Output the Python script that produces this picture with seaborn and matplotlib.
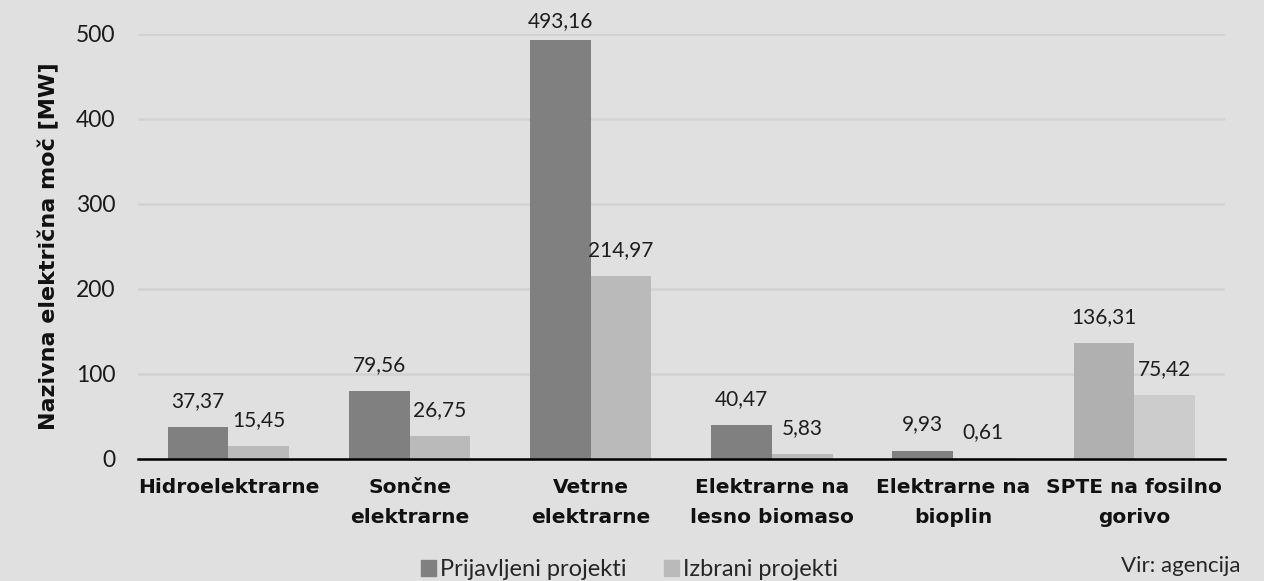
import pandas as pd
import numpy as np
import matplotlib.pyplot as plt
import seaborn as sns
from matplotlib.patches import Patch

# data
categories = ['Hidroelektrarne', 'Sončne\nelektrarne', 'Vetrne\nelektrarne',
              'Elektrarne na\nlesno biomaso', 'Elektrarne na\nbioplin', 'SPTE na fosilno\ngorivo']
prijavljeni = [37.37, 79.56, 493.16, 40.47, 9.93, 136.31]
izbrani = [15.45, 26.75, 214.97, 5.83, 0.61, 75.42]
series_names = ['Prijavljeni projekti', 'Izbrani projekti']

df = pd.DataFrame({
    'kat': categories * 2,
    'moc': prijavljeni + izbrani,
    'serija': [series_names[0]] * 6 + [series_names[1]] * 6,
})

bg = '#e0e0e0'
sns.set_style('white')
plt.rcParams['font.family'] = ['Lato', 'DejaVu Sans']
bold = 'DejaVu Sans'

fig = plt.figure(figsize=(12.64, 5.81), dpi=100, facecolor=bg)
ax = fig.add_axes([0.109, 0.21, 0.86, 0.7315])
ax.set_facecolor(bg)

sns.barplot(data=df, x='kat', y='moc', hue='serija', order=categories,
            palette=['#808080', '#bababa'], width=0.67, saturation=1,
            edgecolor='none', linewidth=0, legend=False, ax=ax)

# last category uses lighter shades
ax.containers[0][5].set_facecolor('#b0b0b0')
ax.containers[1][5].set_facecolor('#cccccc')

# value labels (the tallest one is pushed down to stay inside the chart)
for cont in ax.containers:
    for bar in cont:
        h = bar.get_height()
        off = 6 if h > 450 else 11.5
        ax.annotate(f'{h:.2f}'.replace('.', ','),
                    (bar.get_x() + bar.get_width() / 2, h),
                    xytext=(0, off), textcoords='offset points',
                    ha='center', va='bottom', fontsize=15, color='#1e1e1e',
                    annotation_clip=False)

ax.set_ylim(0, 500)
ax.set_xlim(-0.5, 5.5)
ax.set_yticks([0, 100, 200, 300, 400, 500])
ax.yaxis.grid(True, color='#d2d2d2', linewidth=1.8)
ax.set_axisbelow(True)
ax.tick_params(axis='y', length=0, pad=16, labelsize=16.5, labelcolor='#1a1a1a')

ax.set_xticks(range(6))
ax.set_xticklabels(categories, fontsize=14.5, fontweight='bold', family=bold,
                   linespacing=1.72, color='#111111')
ax.tick_params(axis='x', which='major', length=0, pad=14)
ax.set_xticks(np.arange(-0.5, 6, 1), minor=True)
ax.tick_params(axis='x', which='minor', length=7, width=1.5, color='black', direction='out')

for s in ['top', 'right', 'left']:
    ax.spines[s].set_visible(False)
ax.spines['bottom'].set_color('black')
ax.spines['bottom'].set_linewidth(1.8)

ax.set_xlabel('')
ax.set_ylabel('Nazivna električna moč [MW]', fontsize=16, fontweight='bold',
              family=bold, labelpad=12, color='#111111')

handles = [Patch(color='#808080', label=series_names[0]),
           Patch(color='#bababa', label=series_names[1])]
fig.legend(handles=handles, loc='center', bbox_to_anchor=(0.498, 1 - 570 / 581), ncol=2,
           frameon=False, fontsize=17, handlelength=0.64, handleheight=0.64,
           handletextpad=0.2, columnspacing=1.55, borderpad=0)

fig.text(1121 / 1264, 1 - 556 / 581, 'Vir: agencija', ha='left', va='top', fontsize=16)

fig.savefig('out.png', dpi=100, facecolor=bg)
